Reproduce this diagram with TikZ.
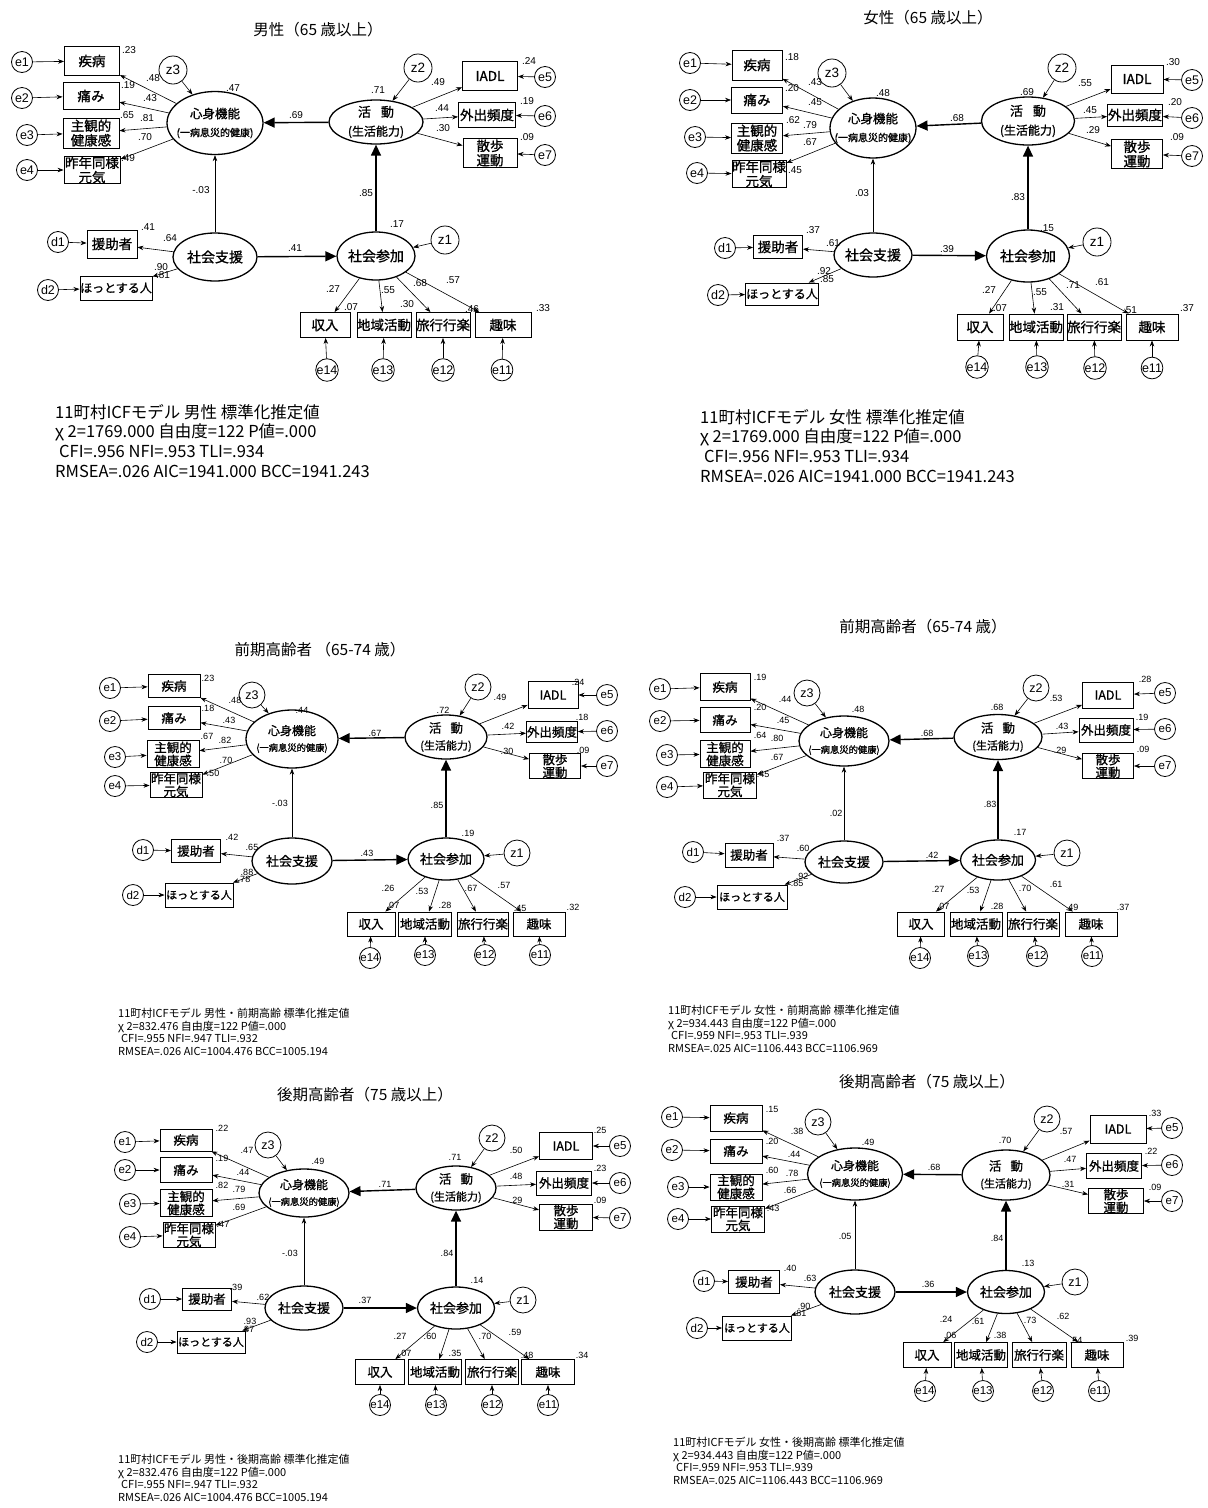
\documentclass[tikz,border=0pt]{standalone}
\usepackage{fontspec}
\setmainfont{Liberation Sans}
\newfontfamily\jp{Noto Sans CJK JP}
\newfontfamily\jpb{Noto Sans CJK JP}[FakeBold=1]
\newfontfamily\latf{Liberation Sans}
\usetikzlibrary{shapes.geometric,arrows.meta}
\newcounter{lbl}
\newcommand\numlbl[3]{\stepcounter{lbl}\node[num] (L\thelbl) at (#1,#2) {#3};}
\newcommand\obsn[6]{\node[obs,minimum width=#4,minimum height=#5] (#1) at (#2,#3) {#6};}
\newcommand\latn[6]{\node[lat,minimum width=#4,minimum height=#5] (#1) at (#2,#3) {#6};}
\newcommand\errn[4]{\node[err] (#1) at (#2,#3) {#4};}
\newcommand\zn[4]{\node[zcirc] (#1) at (#2,#3) {#4};}
\newcommand\shtxt{{\fontsize{12.5}{13}\selectfont 心身機能}\\[4pt]{\fontsize{10}{10}\selectfont (一病息災的健康)}}
\newcommand\shtxtS{{\fontsize{12}{12}\selectfont 心身機能}\\[3pt]{\fontsize{9.3}{9.3}\selectfont (一病息災的健康)}}
\newcommand\hktxt{{\fontsize{13}{13}\selectfont 活\hspace{10pt}動}\\[5pt]{\fontsize{12}{12}\selectfont (生活能力)}}
\newcommand\hktxtS{{\fontsize{12.5}{12.5}\selectfont 活\hspace{9pt}動}\\[4pt]{\fontsize{11}{11}\selectfont (生活能力)}}
\newcommand\semedges[1]{%
 \foreach \k in {1,2,3,4}{\draw[sarr] (#1-e\k) -- (#1-b\k); \draw[sarr] (#1-sh) -- (#1-b\k);}
 \foreach \k/\m in {1/5,2/6,3/7}{\draw[sarr] (#1-e\m) -- (#1-r\k); \draw[sarr] (#1-hk) -- (#1-r\k);}
 \foreach \k/\m in {1/14,2/13,3/12,4/11}{\draw[sarr] (#1-e\m) -- (#1-q\k); \draw[sarr] (#1-sa) -- (#1-q\k);}
 \draw[sarr] (#1-z3) -- (#1-sh);
 \draw[sarr] (#1-z2) -- (#1-hk);
 \draw[sarr] (#1-z1) -- (#1-sa);
 \draw[barr] (#1-hk) -- (#1-sh);
 \draw[barr] (#1-sa) -- (#1-hk);
 \draw[barr] (#1-ss) -- (#1-sa);
 \draw[sarr] (#1-ss) -- (#1-sh);
 \draw[sarr] (#1-ss) -- (#1-j1);
 \draw[sarr] (#1-ss) -- (#1-j2);
 \draw[sarr] (#1-d1) -- (#1-j1);
 \draw[sarr] (#1-d2) -- (#1-j2);
}
\tikzset{
 obsB/.style={draw, rectangle, line width=0.9pt, inner sep=0pt, align=center},
 latB/.style={draw, ellipse, line width=1.3pt, inner xsep=-16pt, inner ysep=-8pt, align=center},
 errB/.style={draw, circle, line width=0.8pt, inner sep=0pt, minimum size=21pt},
 sarr/.style={line width=0.6pt, -{Stealth[length=6pt,width=4.5pt]}},
 barr/.style={line width=1.4pt, -{Triangle[length=11pt,width=10pt]}},
 ttl/.style={inner sep=0pt, font=\jp\fontsize{15.5}{15.5}\selectfont},
 bigp/.style={
  obs/.style={obsB, font=\jpb\fontsize{13.5}{14.5}\selectfont},
  lat/.style={latB, font=\jpb\fontsize{14}{14}\selectfont},
  err/.style={errB, font=\latf\fontsize{12.5}{12.5}\selectfont},
  zcirc/.style={errB, minimum size=28pt, font=\latf\fontsize{13.5}{13.5}\selectfont},
  num/.style={inner sep=0pt, font=\latf\fontsize{10}{10}\selectfont},
  fitt/.style={anchor=north west, align=left, inner sep=0pt, font=\jp\fontsize{16.5}{19.7}\selectfont}},
 smallp/.style={
  obs/.style={obsB, font=\jpb\fontsize{12.5}{13}\selectfont},
  lat/.style={latB, font=\jpb\fontsize{13}{13}\selectfont},
  err/.style={errB, font=\latf\fontsize{11.5}{11.5}\selectfont},
  zcirc/.style={errB, minimum size=26pt, font=\latf\fontsize{12.5}{12.5}\selectfont},
  num/.style={inner sep=0pt, font=\latf\fontsize{9}{9}\selectfont},
  fitt/.style={anchor=north west, align=left, inner sep=0pt, font=\jp\fontsize{11}{12.6}\selectfont}}
}
\begin{document}
\begin{tikzpicture}[x=1pt,y=-1pt]
\fill[white] (0,0) rectangle (1208,1508);
\useasboundingbox (0,0) rectangle (1208,1508);

% ================= Panel A
\begin{scope}[bigp]
\def\hsfs{\fontsize{12}{12}\selectfont}
\node[ttl] (A-t) at (318,30) {男性（65 歳以上）};
\errn{A-e1}{22}{62}{e1} \errn{A-e2}{22}{98}{e2} \errn{A-e3}{27}{135}{e3} \errn{A-e4}{27}{170}{e4}
\obsn{A-b1}{92}{61}{55}{29}{疾病}
\obsn{A-b2}{91}{96}{56}{27}{痛み}
\obsn{A-b3}{91}{133}{56}{30}{主観的\\健康感}
\obsn{A-b4}{92}{170}{56}{27}{昨年同様\\元気}
\zn{A-z3}{173}{70}{z3}
\latn{A-sh}{215}{123}{96}{63}{\shtxt}
\latn{A-hk}{376}{122}{94}{44}{\hktxt}
\zn{A-z2}{418}{68}{z2}
\obsn{A-r1}{490}{76}{55}{29}{IADL}
\obsn{A-r2}{487}{115}{57}{25}{外出頻度}
\obsn{A-r3}{490}{153}{54}{29}{散歩\\運動}
\errn{A-e5}{545}{77}{e5} \errn{A-e6}{545}{116}{e6} \errn{A-e7}{545}{155}{e7}
\latn{A-ss}{215}{257}{84}{48}{社会支援}
\latn{A-sa}{376}{256}{78}{48}{社会参加}
\zn{A-z1}{445}{240}{z1}
\obsn{A-j1}{112}{244}{50}{28}{援助者}
\obsn{A-j2}{116}{288}{72}{24}{\hsfs ほっとする人}
\errn{A-d1}{58}{242}{d1} \errn{A-d2}{48}{290}{d2}
\obsn{A-q1}{325}{325}{50}{25}{収入}
\obsn{A-q2}{384}{325}{54}{25}{地域活動}
\obsn{A-q3}{443}{325}{54}{25}{旅行行楽}
\obsn{A-q4}{503}{325}{56}{25}{趣味}
\errn{A-e14}{327}{370}{e14} \errn{A-e13}{383}{370}{e13} \errn{A-e12}{443}{370}{e12} \errn{A-e11}{502}{370}{e11}
\semedges{A}
\numlbl{129}{50}{.23} \numlbl{153}{78}{.48} \numlbl{128}{85}{.19} \numlbl{150}{98}{.43} \numlbl{127}{115}{.65} \numlbl{147}{118}{.81} \numlbl{145}{137}{.70} \numlbl{128}{158}{.49}
\numlbl{233}{88}{.47} \numlbl{296}{115}{.69} \numlbl{378}{90}{.71} \numlbl{201}{190}{-.03}
\numlbl{148}{227}{.41} \numlbl{170}{238}{.64} \numlbl{161}{267}{.90} \numlbl{163}{275}{.81}
\numlbl{295}{248}{.41} \numlbl{366}{193}{.85} \numlbl{397}{224}{.17}
\numlbl{438}{82}{.49} \numlbl{442}{108}{.44} \numlbl{443}{128}{.30}
\numlbl{529}{61}{.24} \numlbl{527}{101}{.19} \numlbl{527}{137}{.09}
\numlbl{333}{289}{.27} \numlbl{351}{307}{.07} \numlbl{388}{290}{.55} \numlbl{407}{304}{.30} \numlbl{420}{283}{.68} \numlbl{453}{280}{.57} \numlbl{472}{309}{.46} \numlbl{543}{308}{.33}
\node[fitt] (A-fit) at (55,404) {11町村ICFモデル 男性 標準化推定値\\χ 2=1769.000 自由度=122 P値=.000\\\hspace{4pt}CFI=.956 NFI=.953 TLI=.934\\RMSEA=.026 AIC=1941.000 BCC=1941.243};
\end{scope}

% ================= Panel B
\begin{scope}[bigp]
\def\hsfs{\fontsize{12}{12}\selectfont}
\node[ttl] (B-t) at (928,18) {女性（65 歳以上）};
\errn{B-e1}{690}{63}{e1} \errn{B-e2}{690}{100}{e2} \errn{B-e3}{695}{137}{e3} \errn{B-e4}{697}{173}{e4}
\obsn{B-b1}{757}{65}{50}{30}{疾病}
\obsn{B-b2}{757}{100}{51}{26}{痛み}
\obsn{B-b3}{757}{138}{51}{30}{主観的\\健康感}
\obsn{B-b4}{759}{174}{54}{26}{昨年同様\\元気}
\zn{B-z3}{832}{73}{z3}
\latn{B-sh}{873}{128}{86}{60}{\shtxt}
\latn{B-hk}{1028}{121}{93}{48}{\hktxt}
\zn{B-z2}{1062}{68}{z2}
\obsn{B-r1}{1137}{79}{52}{28}{IADL}
\obsn{B-r2}{1135}{115}{55}{22}{外出頻度}
\obsn{B-r3}{1137}{154}{51}{29}{散歩\\運動}
\errn{B-e5}{1192}{80}{e5} \errn{B-e6}{1192}{118}{e6} \errn{B-e7}{1192}{156}{e7}
\latn{B-ss}{873}{255}{78}{44}{社会支援}
\latn{B-sa}{1028}{256}{83}{52}{社会参加}
\zn{B-z1}{1097}{242}{z1}
\obsn{B-j1}{778}{247}{49}{23}{援助者}
\obsn{B-j2}{782}{294}{73}{22}{\hsfs ほっとする人}
\errn{B-d1}{725}{248}{d1} \errn{B-d2}{718}{295}{d2}
\obsn{B-q1}{980}{327}{46}{26}{収入}
\obsn{B-q2}{1036}{327}{53}{26}{地域活動}
\obsn{B-q3}{1094}{327}{54}{26}{旅行行楽}
\obsn{B-q4}{1152}{327}{52}{26}{趣味}
\errn{B-e14}{977}{367}{e14} \errn{B-e13}{1037}{367}{e13} \errn{B-e12}{1095}{368}{e12} \errn{B-e11}{1152}{368}{e11}
\semedges{B}
\numlbl{792}{57}{.18} \numlbl{815}{82}{.43} \numlbl{792}{88}{.20} \numlbl{815}{102}{.45} \numlbl{793}{120}{.62} \numlbl{810}{125}{.79} \numlbl{810}{142}{.67} \numlbl{795}{170}{.45}
\numlbl{883}{93}{.48} \numlbl{957}{118}{.68} \numlbl{862}{193}{.03}
\numlbl{813}{230}{.37} \numlbl{833}{243}{.61} \numlbl{824}{271}{.92} \numlbl{827}{279}{.85} \numlbl{947}{249}{.39}
\numlbl{1027}{92}{.69} \numlbl{1085}{83}{.55} \numlbl{1090}{110}{.45} \numlbl{1093}{130}{.29}
\numlbl{1173}{62}{.30} \numlbl{1175}{102}{.20} \numlbl{1177}{137}{.09}
\numlbl{1018}{197}{.83} \numlbl{1047}{228}{.15}
\numlbl{989}{290}{.27} \numlbl{1000}{308}{.07} \numlbl{1040}{292}{.55} \numlbl{1057}{307}{.31} \numlbl{1073}{285}{.71} \numlbl{1102}{282}{.61} \numlbl{1130}{310}{.51} \numlbl{1187}{308}{.37}
\node[fitt] (B-fit) at (700,409) {11町村ICFモデル 女性 標準化推定値\\χ 2=1769.000 自由度=122 P値=.000\\\hspace{4pt}CFI=.956 NFI=.953 TLI=.934\\RMSEA=.026 AIC=1941.000 BCC=1941.243};
\end{scope}

% ================= Panel C
\begin{scope}[smallp]
\def\hsfs{\fontsize{11}{11}\selectfont}
\node[ttl] (C-t) at (320,650) {前期高齢者 （65-74 歳）};
\errn{C-e1}{110}{688}{e1} \errn{C-e2}{110}{721}{e2} \errn{C-e3}{115}{757}{e3} \errn{C-e4}{115}{786}{e4}
\obsn{C-b1}{174}{686}{52}{23}{疾病}
\obsn{C-b2}{174}{718}{52}{23}{痛み}
\obsn{C-b3}{173}{754}{52}{27}{主観的\\健康感}
\obsn{C-b4}{176}{785}{52}{24}{昨年同様\\元気}
\zn{C-z3}{252}{695}{z3}
\latn{C-sh}{292}{739}{92}{58}{\shtxtS}
\latn{C-hk}{446}{737}{82}{44}{\hktxtS}
\zn{C-z2}{478}{687}{z2}
\obsn{C-r1}{553}{695}{50}{27}{IADL}
\obsn{C-r2}{552}{732}{51}{21}{外出頻度}
\obsn{C-r3}{555}{766}{51}{25}{散歩\\運動}
\errn{C-e5}{607}{695}{e5} \errn{C-e6}{607}{731}{e6} \errn{C-e7}{607}{766}{e7}
\latn{C-ss}{292}{861}{80}{46}{社会支援}
\latn{C-sa}{446}{859}{76}{42}{社会参加}
\zn{C-z1}{517}{853}{z1}
\obsn{C-j1}{196}{851}{49}{23}{援助者}
\obsn{C-j2}{199}{895}{68}{24}{\hsfs ほっとする人}
\errn{C-d1}{143}{850}{d1} \errn{C-d2}{133}{895}{d2}
\obsn{C-q1}{371}{924}{48}{24}{収入}
\obsn{C-q2}{425}{924}{53}{24}{地域活動}
\obsn{C-q3}{483}{924}{51}{24}{旅行行楽}
\obsn{C-q4}{539}{924}{52}{24}{趣味}
\errn{C-e14}{370}{958}{e14} \errn{C-e13}{425}{955}{e13} \errn{C-e12}{485}{955}{e12} \errn{C-e11}{540}{955}{e11}
\semedges{C}
\numlbl{208}{678}{.23} \numlbl{235}{700}{.48} \numlbl{208}{708}{.18} \numlbl{229}{720}{.43} \numlbl{207}{736}{.67} \numlbl{225}{740}{.82} \numlbl{226}{760}{.70} \numlbl{213}{773}{.50}
\numlbl{302}{710}{.44} \numlbl{375}{733}{.67} \numlbl{280}{803}{-.03}
\numlbl{232}{837}{.42} \numlbl{252}{847}{.65} \numlbl{247}{872}{.88} \numlbl{244}{879}{.78} \numlbl{367}{853}{.43}
\numlbl{443}{710}{.72} \numlbl{500}{697}{.49} \numlbl{508}{726}{.42} \numlbl{507}{751}{.30}
\numlbl{578}{682}{.24} \numlbl{582}{717}{.18} \numlbl{583}{750}{.09}
\numlbl{437}{805}{.85} \numlbl{468}{833}{.19}
\numlbl{388}{888}{.26} \numlbl{393}{905}{.07} \numlbl{422}{891}{.53} \numlbl{445}{905}{.28} \numlbl{471}{888}{.67} \numlbl{504}{885}{.57} \numlbl{520}{908}{.45} \numlbl{573}{907}{.32}
\node[fitt] (C-fit) at (118,1008) {11町村ICFモデル 男性・前期高齢 標準化推定値\\χ 2=832.476 自由度=122 P値=.000\\\hspace{3pt}CFI=.955 NFI=.947 TLI=.932\\RMSEA=.026 AIC=1004.476 BCC=1005.194};
\end{scope}

% ================= Panel D
\begin{scope}[smallp]
\def\hsfs{\fontsize{11}{11}\selectfont}
\node[ttl] (D-t) at (923,627) {前期高齢者（65-74 歳）};
\errn{D-e1}{660}{689}{e1} \errn{D-e2}{660}{721}{e2} \errn{D-e3}{667}{755}{e3} \errn{D-e4}{667}{787}{e4}
\obsn{D-b1}{725}{687}{50}{27}{疾病}
\obsn{D-b2}{725}{720}{50}{25}{痛み}
\obsn{D-b3}{725}{754}{50}{27}{主観的\\健康感}
\obsn{D-b4}{730}{785}{53}{26}{昨年同様\\元気}
\zn{D-z3}{807}{693}{z3}
\latn{D-sh}{844}{741}{90}{50}{\shtxtS}
\latn{D-hk}{998}{737}{88}{45}{\hktxtS}
\zn{D-z2}{1036}{688}{z2}
\obsn{D-r1}{1108}{695}{51}{26}{IADL}
\obsn{D-r2}{1106}{730}{54}{24}{外出頻度}
\obsn{D-r3}{1108}{766}{51}{25}{散歩\\運動}
\errn{D-e5}{1165}{693}{e5} \errn{D-e6}{1165}{729}{e6} \errn{D-e7}{1165}{766}{e7}
\latn{D-ss}{844}{862}{78}{42}{社会支援}
\latn{D-sa}{998}{860}{75}{40}{社会参加}
\zn{D-z1}{1067}{853}{z1}
\obsn{D-j1}{749}{855}{48}{24}{援助者}
\obsn{D-j2}{752}{897}{70}{24}{\hsfs ほっとする人}
\errn{D-d1}{693}{852}{d1} \errn{D-d2}{685}{897}{d2}
\obsn{D-q1}{921}{924}{47}{24}{収入}
\obsn{D-q2}{976}{924}{52}{24}{地域活動}
\obsn{D-q3}{1033}{924}{52}{24}{旅行行楽}
\obsn{D-q4}{1091}{924}{52}{24}{趣味}
\errn{D-e14}{920}{958}{e14} \errn{D-e13}{978}{956}{e13} \errn{D-e12}{1037}{956}{e12} \errn{D-e11}{1092}{956}{e11}
\semedges{D}
\numlbl{760}{677}{.19} \numlbl{785}{699}{.44} \numlbl{760}{707}{.20} \numlbl{783}{720}{.45} \numlbl{760}{735}{.64} \numlbl{777}{738}{.80} \numlbl{777}{757}{.67} \numlbl{763}{774}{.45}
\numlbl{858}{709}{.48} \numlbl{927}{733}{.68} \numlbl{836}{813}{.02}
\numlbl{783}{838}{.37} \numlbl{803}{848}{.60} \numlbl{802}{876}{.92} \numlbl{797}{883}{.85} \numlbl{932}{855}{.42}
\numlbl{997}{707}{.68} \numlbl{1056}{698}{.53} \numlbl{1062}{726}{.43} \numlbl{1060}{750}{.29}
\numlbl{1145}{679}{.28} \numlbl{1142}{717}{.19} \numlbl{1143}{749}{.09}
\numlbl{990}{804}{.83} \numlbl{1020}{832}{.17}
\numlbl{938}{889}{.27} \numlbl{943}{906}{.07} \numlbl{973}{890}{.53} \numlbl{997}{906}{.28} \numlbl{1025}{888}{.70} \numlbl{1056}{884}{.61} \numlbl{1072}{907}{.49} \numlbl{1123}{907}{.37}
\node[fitt] (D-fit) at (668,1005) {11町村ICFモデル 女性・前期高齢 標準化推定値\\χ 2=934.443 自由度=122 P値=.000\\\hspace{3pt}CFI=.959 NFI=.953 TLI=.939\\RMSEA=.025 AIC=1106.443 BCC=1106.969};
\end{scope}

% ================= Panel E
\begin{scope}[smallp]
\def\hsfs{\fontsize{11}{11}\selectfont}
\node[ttl] (E-t) at (365,1095) {後期高齢者（75 歳以上）};
\errn{E-e1}{125}{1142}{e1} \errn{E-e2}{125}{1170}{e2} \errn{E-e3}{130}{1204}{e3} \errn{E-e4}{130}{1237}{e4}
\obsn{E-b1}{186}{1140}{52}{22}{疾病}
\obsn{E-b2}{186}{1170}{52}{25}{痛み}
\obsn{E-b3}{186}{1203}{52}{27}{主観的\\健康感}
\obsn{E-b4}{189}{1235}{52}{24}{昨年同様\\元気}
\zn{E-z3}{268}{1145}{z3}
\latn{E-sh}{304}{1193}{90}{48}{\shtxtS}
\latn{E-hk}{456}{1188}{80}{44}{\hktxtS}
\zn{E-z2}{492}{1138}{z2}
\obsn{E-r1}{566}{1146}{53}{27}{IADL}
\obsn{E-r2}{564}{1183}{55}{24}{外出頻度}
\obsn{E-r3}{566}{1217}{53}{26}{散歩\\運動}
\errn{E-e5}{620}{1146}{e5} \errn{E-e6}{620}{1183}{e6} \errn{E-e7}{620}{1218}{e7}
\latn{E-ss}{304}{1308}{78}{44}{社会支援}
\latn{E-sa}{456}{1308}{77}{42}{社会参加}
\zn{E-z1}{523}{1300}{z1}
\obsn{E-j1}{207}{1299}{49}{22}{援助者}
\obsn{E-j2}{211}{1342}{68}{22}{\hsfs ほっとする人}
\errn{E-d1}{150}{1299}{d1} \errn{E-d2}{147}{1342}{d2}
\obsn{E-q1}{380}{1372}{49}{25}{収入}
\obsn{E-q2}{435}{1372}{53}{25}{地域活動}
\obsn{E-q3}{492}{1372}{53}{25}{旅行行楽}
\obsn{E-q4}{548}{1372}{53}{25}{趣味}
\errn{E-e14}{380}{1405}{e14} \errn{E-e13}{436}{1405}{e13} \errn{E-e12}{492}{1405}{e12} \errn{E-e11}{548}{1405}{e11}
\semedges{E}
\numlbl{222}{1128}{.22} \numlbl{247}{1150}{.47} \numlbl{222}{1158}{.19} \numlbl{243}{1172}{.44} \numlbl{222}{1185}{.82} \numlbl{239}{1189}{.79} \numlbl{239}{1207}{.69} \numlbl{223}{1224}{.47}
\numlbl{318}{1161}{.49} \numlbl{385}{1184}{.71} \numlbl{290}{1253}{-.03}
\numlbl{236}{1287}{.39} \numlbl{263}{1297}{.62} \numlbl{250}{1321}{.93} \numlbl{248}{1329}{.87} \numlbl{365}{1300}{.37}
\numlbl{455}{1157}{.71} \numlbl{516}{1150}{.50} \numlbl{516}{1176}{.48} \numlbl{516}{1200}{.29}
\numlbl{600}{1130}{.25} \numlbl{600}{1168}{.23} \numlbl{600}{1200}{.09}
\numlbl{447}{1253}{.84} \numlbl{477}{1280}{.14}
\numlbl{400}{1336}{.27} \numlbl{405}{1353}{.07} \numlbl{430}{1336}{.60} \numlbl{455}{1353}{.35} \numlbl{485}{1336}{.70} \numlbl{515}{1332}{.59} \numlbl{527}{1355}{.48} \numlbl{582}{1355}{.34}
\node[fitt] (E-fit) at (118,1454) {11町村ICFモデル 男性・後期高齢 標準化推定値\\χ 2=832.476 自由度=122 P値=.000\\\hspace{3pt}CFI=.955 NFI=.947 TLI=.932\\RMSEA=.026 AIC=1004.476 BCC=1005.194};
\end{scope}

% ================= Panel F
\begin{scope}[smallp]
\def\hsfs{\fontsize{11}{11}\selectfont}
\node[ttl] (F-t) at (927,1082) {後期高齢者（75 歳以上）};
\errn{F-e1}{672}{1117}{e1} \errn{F-e2}{672}{1150}{e2} \errn{F-e3}{678}{1187}{e3} \errn{F-e4}{678}{1219}{e4}
\obsn{F-b1}{736}{1118}{52}{26}{疾病}
\obsn{F-b2}{736}{1151}{52}{24}{痛み}
\obsn{F-b3}{736}{1187}{52}{26}{主観的\\健康感}
\obsn{F-b4}{738}{1219}{53}{26}{昨年同様\\元気}
\zn{F-z3}{818}{1122}{z3}
\latn{F-sh}{855}{1174}{95}{52}{\shtxtS}
\latn{F-hk}{1006}{1175}{88}{50}{\hktxtS}
\zn{F-z2}{1047}{1119}{z2}
\obsn{F-r1}{1118}{1129}{56}{28}{IADL}
\obsn{F-r2}{1114}{1166}{55}{25}{外出頻度}
\obsn{F-r3}{1116}{1201}{55}{25}{散歩\\運動}
\errn{F-e5}{1172}{1128}{e5} \errn{F-e6}{1172}{1165}{e6} \errn{F-e7}{1172}{1201}{e7}
\latn{F-ss}{855}{1292}{80}{44}{社会支援}
\latn{F-sa}{1006}{1292}{77}{43}{社会参加}
\zn{F-z1}{1075}{1282}{z1}
\obsn{F-j1}{754}{1282}{51}{23}{援助者}
\obsn{F-j2}{757}{1328}{69}{24}{\hsfs ほっとする人}
\errn{F-d1}{704}{1281}{d1} \errn{F-d2}{697}{1328}{d2}
\obsn{F-q1}{927}{1355}{48}{25}{収入}
\obsn{F-q2}{981}{1355}{53}{25}{地域活動}
\obsn{F-q3}{1039}{1355}{54}{25}{旅行行楽}
\obsn{F-q4}{1097}{1355}{52}{25}{趣味}
\errn{F-e14}{925}{1391}{e14} \errn{F-e13}{983}{1391}{e13} \errn{F-e12}{1043}{1391}{e12} \errn{F-e11}{1099}{1391}{e11}
\semedges{F}
\numlbl{772}{1109}{.15} \numlbl{797}{1131}{.38} \numlbl{772}{1141}{.20} \numlbl{794}{1154}{.44} \numlbl{772}{1170}{.60} \numlbl{792}{1173}{.78} \numlbl{790}{1190}{.66} \numlbl{773}{1208}{.43}
\numlbl{868}{1142}{.49} \numlbl{934}{1167}{.68} \numlbl{845}{1236}{.05}
\numlbl{790}{1268}{.40} \numlbl{810}{1278}{.63} \numlbl{804}{1306}{.90} \numlbl{800}{1313}{.81} \numlbl{928}{1284}{.36}
\numlbl{1005}{1140}{.70} \numlbl{1066}{1131}{.57} \numlbl{1070}{1159}{.47} \numlbl{1068}{1184}{.31}
\numlbl{1155}{1113}{.33} \numlbl{1151}{1151}{.22} \numlbl{1155}{1187}{.09}
\numlbl{997}{1238}{.84} \numlbl{1028}{1263}{.13}
\numlbl{946}{1319}{.24} \numlbl{950}{1335}{.06} \numlbl{978}{1321}{.61} \numlbl{1000}{1335}{.38} \numlbl{1030}{1320}{.73} \numlbl{1063}{1316}{.62} \numlbl{1076}{1340}{.54} \numlbl{1132}{1338}{.39}
\node[fitt] (F-fit) at (673,1437) {11町村ICFモデル 女性・後期高齢 標準化推定値\\χ 2=934.443 自由度=122 P値=.000\\\hspace{3pt}CFI=.959 NFI=.953 TLI=.939\\RMSEA=.025 AIC=1106.443 BCC=1106.969};
\end{scope}
\end{tikzpicture}
\end{document}
